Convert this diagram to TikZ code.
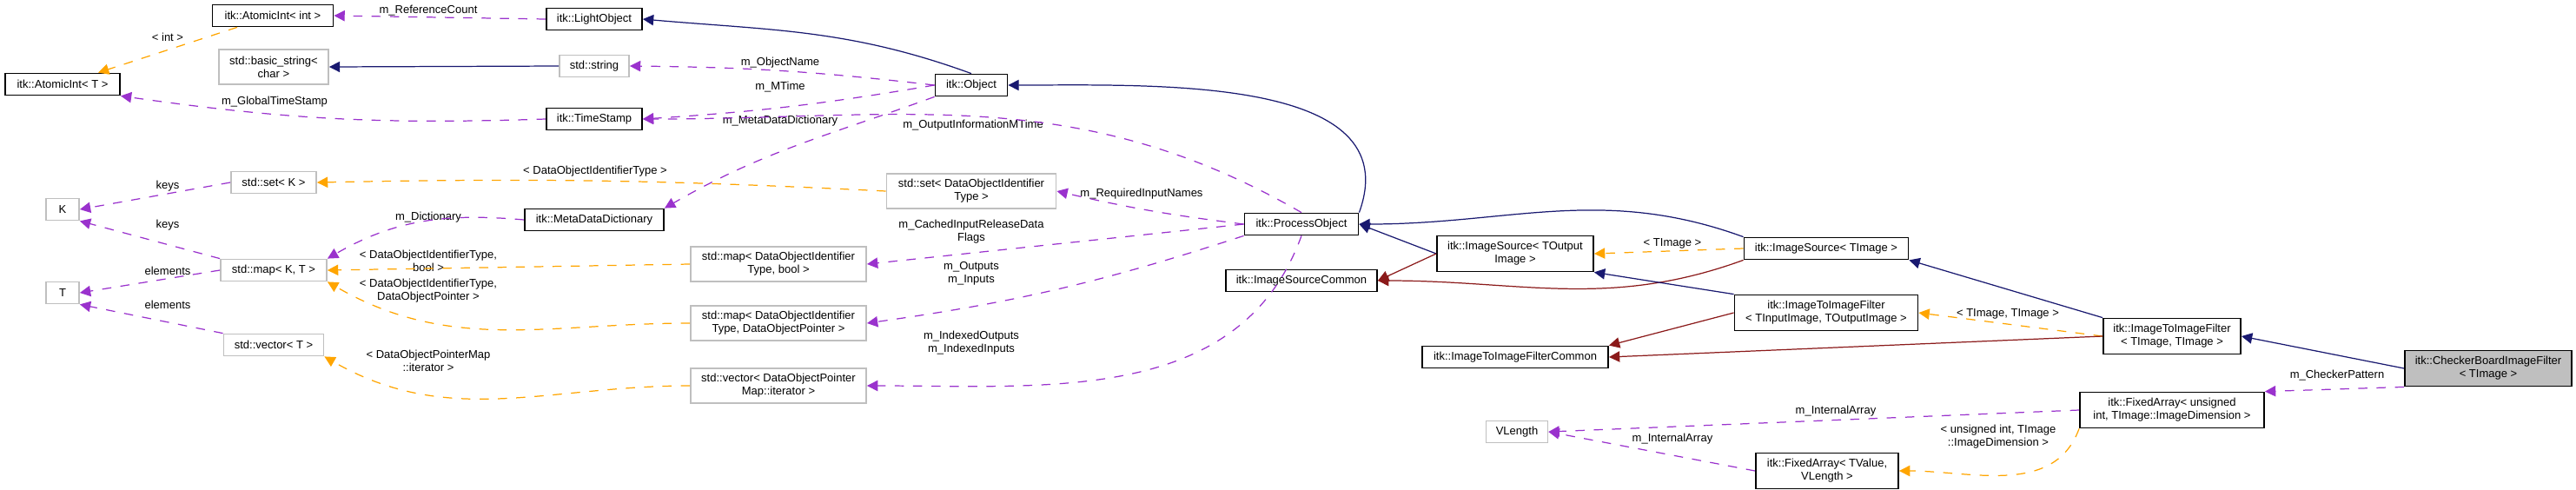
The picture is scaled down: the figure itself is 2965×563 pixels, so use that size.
\documentclass[tikz,border=0pt]{standalone}
\usepackage{fontspec}
\setmainfont{Liberation Sans}
\usepackage{tikz}
\usetikzlibrary{arrows.meta,positioning}
\definecolor{inhcol}{HTML}{191970}
\definecolor{prvcol}{HTML}{8B1A1A}
\definecolor{usecol}{HTML}{9A32CD}
\definecolor{tplcol}{HTML}{FFA500}
\begin{document}
\begin{tikzpicture}[x=0.01cm,y=-0.01cm,font=\fontsize{3.7}{4.3}\selectfont]
  \tikzstyle{every path}=[line width=0.35pt]
  \tikzstyle{cls}=[draw,line width=0.5pt,inner sep=1pt,minimum height=0.25cm,align=center]
  \tikzstyle{ext}=[cls,draw=black!25,line width=0.5pt]
  \tikzstyle{lbl}=[inner sep=0pt,align=center]
  \tikzstyle{inh}=[inhcol,-{Triangle[length=3.5pt,width=3.5pt]}]
  \tikzstyle{prv}=[prvcol,-{Triangle[length=3.5pt,width=3.5pt]}]
  \tikzstyle{use}=[usecol,dashed,-{Triangle[length=3.5pt,width=3.5pt]}]
  \tikzstyle{tpl}=[tplcol,dashed,-{Triangle[length=3.5pt,width=3.5pt]}]

  \useasboundingbox (0,0) rectangle (2965,563);

  % left columns
  \node [cls,minimum width=1.39cm] (aint) at (314,18) {itk::AtomicInt\textless{} int \textgreater};
  \node [cls,minimum width=1.32cm] (atom) at (72,97) {itk::AtomicInt\textless{} T \textgreater};
  \node [ext,minimum width=1.26cm,minimum height=0.4cm] (bstr) at (315,77) {std::basic\_string\textless\\char \textgreater};
  \node [ext,minimum width=0.98cm] (setk) at (315,210) {std::set\textless{} K \textgreater};
  \node [ext,minimum width=0.38cm] (K) at (72,241) {K};
  \node [ext,minimum width=1.22cm] (mapkt) at (315,311) {std::map\textless{} K, T \textgreater};
  \node [ext,minimum width=0.38cm] (T) at (72,337) {T};
  \node [ext,minimum width=1.15cm] (vect) at (315,397) {std::vector\textless{} T \textgreater};

  \node [cls,minimum width=1.1cm] (light) at (684,22) {itk::LightObject};
  \node [ext,minimum width=0.8cm] (str) at (684,76) {std::string};
  \node [cls,minimum width=1.1cm] (tstamp) at (684,137) {itk::TimeStamp};
  \node [cls,minimum width=1.6cm] (mdd) at (684,253) {itk::MetaDataDictionary};

  % middle
  \node [cls,minimum width=0.83cm] (obj) at (1118,98) {itk::Object};
  \node [ext,minimum width=1.95cm,minimum height=0.4cm] (setdoi) at (1118,220) {std::set\textless{} DataObjectIdentifier\\Type \textgreater};
  \node [ext,minimum width=2.02cm,minimum height=0.4cm] (mapbool) at (896,304) {std::map\textless{} DataObjectIdentifier\\Type, bool \textgreater};
  \node [ext,minimum width=2.02cm,minimum height=0.4cm] (mapdop) at (896,372) {std::map\textless{} DataObjectIdentifier\\Type, DataObjectPointer \textgreater};
  \node [ext,minimum width=2.02cm,minimum height=0.4cm] (vecdop) at (896,444) {std::vector\textless{} DataObjectPointer\\Map::iterator \textgreater};

  % right part
  \node [cls,minimum width=1.31cm] (proc) at (1498,258) {itk::ProcessObject};
  \node [cls,minimum width=1.74cm] (isc) at (1498,323) {itk::ImageSourceCommon};
  \node [cls,minimum width=1.8cm,minimum height=0.41cm] (isout) at (1744,292) {itk::ImageSource\textless{} TOutput\\Image \textgreater};
  \node [cls,minimum width=2.14cm] (i2ic) at (1744,411) {itk::ImageToImageFilterCommon};
  \node [cls,minimum width=1.89cm] (isimg) at (2102,286) {itk::ImageSource\textless{} TImage \textgreater};
  \node [cls,minimum width=2.11cm,minimum height=0.41cm] (i2iio) at (2102,360) {itk::ImageToImageFilter\\\textless{} TInputImage, TOutputImage \textgreater};
  \node [cls,minimum width=1.58cm,minimum height=0.41cm] (i2iimg) at (2500,387) {itk::ImageToImageFilter\\\textless{} TImage, TImage \textgreater};
  \node [cls,fill=black!25,minimum width=1.92cm,minimum height=0.41cm] (cbif) at (2864,424) {itk::CheckerBoardImageFilter\\\textless{} TImage \textgreater};
  \node [cls,minimum width=2.12cm,minimum height=0.41cm] (farru) at (2500,472) {itk::FixedArray\textless{} unsigned\\int, TImage::ImageDimension \textgreater};
  \node [ext,minimum width=0.71cm] (vlen) at (1746,497) {VLength};
  \node [cls,minimum width=1.64cm,minimum height=0.41cm] (farrv) at (2103,542) {itk::FixedArray\textless{} TValue,\\VLength \textgreater};

  % labels
  \node [lbl] (lref) at (493,12) {m\_ReferenceCount};
  \node [lbl] (lint) at (193,43) {\textless{} int \textgreater};
  \node [lbl] (lgts) at (316,117) {m\_GlobalTimeStamp};
  \node [lbl] (lname) at (898,72) {m\_ObjectName};
  \node [lbl] (lmt) at (898,100) {m\_MTime};
  \node [lbl] (lmdd) at (898,139) {m\_MetaDataDictionary};
  \node [lbl] (loim) at (1120,144) {m\_OutputInformationMTime};
  \node [lbl] (ldoit) at (685,197) {\textless{} DataObjectIdentifierType \textgreater};
  \node [lbl] (lk1) at (193,214) {keys};
  \node [lbl] (lk2) at (193,259) {keys};
  \node [lbl] (ldict) at (493,250) {m\_Dictionary};
  \node [lbl] (le1) at (193,312) {elements};
  \node [lbl] (le2) at (193,351) {elements};
  \node [lbl] (lbool) at (493,300) {\textless{} DataObjectIdentifierType,\\bool \textgreater};
  \node [lbl] (ldop) at (493,335) {\textless{} DataObjectIdentifierType,\\DataObjectPointer \textgreater};
  \node [lbl] (lit) at (493,415) {\textless{} DataObjectPointerMap\\::iterator \textgreater};
  \node [lbl] (lreq) at (1314,223) {m\_RequiredInputNames};
  \node [lbl] (lcache) at (1118,267) {m\_CachedInputReleaseData\\Flags};
  \node [lbl] (lio) at (1118,315) {m\_Outputs\\m\_Inputs};
  \node [lbl] (lidx) at (1118,395) {m\_IndexedOutputs\\m\_IndexedInputs};
  \node [lbl] (ltimg) at (1925,280) {\textless{} TImage \textgreater};
  \node [lbl] (ltt) at (2311,361) {\textless{} TImage, TImage \textgreater};
  \node [lbl] (lcp) at (2690,432) {m\_CheckerPattern};
  \node [lbl] (lia1) at (2113,473) {m\_InternalArray};
  \node [lbl] (lia2) at (1925,505) {m\_InternalArray};
  \node [lbl] (luid) at (2300,503) {\textless{} unsigned int, TImage\\::ImageDimension \textgreater};

  % connectors
  \draw [inh] (obj.north) to[out=160,in=-5] (light.east);
  \draw [use] (light.west) -- (aint.east);
  \draw [tpl] (aint) -- (atom);
  \draw [inh] (str.west) -- (bstr.east);
  \draw [use] (obj.west) to[bend right=3] (str.east);
  \draw [use] (obj.west) to[bend left=3] (tstamp.east);
  \draw [use] (tstamp.west) to[bend left=5] (atom.south east);
  \draw [use] (obj.south west) to[out=200,in=30] (mdd.north east);
  \draw [use] (proc.north) to[out=150,in=0] (tstamp.east);
  \draw [inh] (proc.north east) to[out=70,in=0] (obj.east);
  \draw [tpl] (setdoi.west) to[bend right=2] (setk.east);
  \draw [use] (setk.west) -- (K.east);
  \draw [use] (mapkt.north west) -- (K.south east);
  \draw [use] (mapkt.west) -- (T.east);
  \draw [use] (vect.north west) -- (T.south east);
  \draw [use] (mdd.west) to[out=175,in=30] (mapkt.north east);
  \draw [tpl] (mapbool.west) -- (mapkt.east);
  \draw [tpl] (mapdop.west) to[out=180,in=-30] (mapkt.south east);
  \draw [tpl] (vecdop.west) to[out=180,in=-30] (vect.south east);
  \draw [use] (proc.west) to[bend left=3] (setdoi.east);
  \draw [use] (proc.west) -- (mapbool.east);
  \draw [use] (proc.south west) to[bend left=5] (mapdop.east);
  \draw [use] (proc.south) to[out=250,in=0] (vecdop.east);
  \draw [inh] (isout.west) -- (proc.east);
  \draw [prv] (isout.west) -- (isc.east);
  \draw [inh] (isimg.north west) to[out=160,in=0] (proc.east);
  \draw [tpl] (isimg.west) -- (isout.east);
  \draw [prv] (isimg.south west) to[out=200,in=0] (isc.east);
  \draw [inh] (i2iio.north west) -- (isout.south east);
  \draw [prv] (i2iio.west) -- (i2ic.north east);
  \draw [inh] (i2iimg.north west) -- (isimg.south east);
  \draw [tpl] (i2iimg.west) -- (i2iio.east);
  \draw [prv] (i2iimg.west) -- (i2ic.east);
  \draw [inh] (cbif.west) -- (i2iimg.east);
  \draw [use] (cbif.south west) -- (farru.north east);
  \draw [use] (farru.west) -- (vlen.east);
  \draw [use] (farrv.west) -- (vlen.east);
  \draw [tpl] (farru.south west) to[out=250,in=0] (farrv.east);
\end{tikzpicture}
\end{document}
